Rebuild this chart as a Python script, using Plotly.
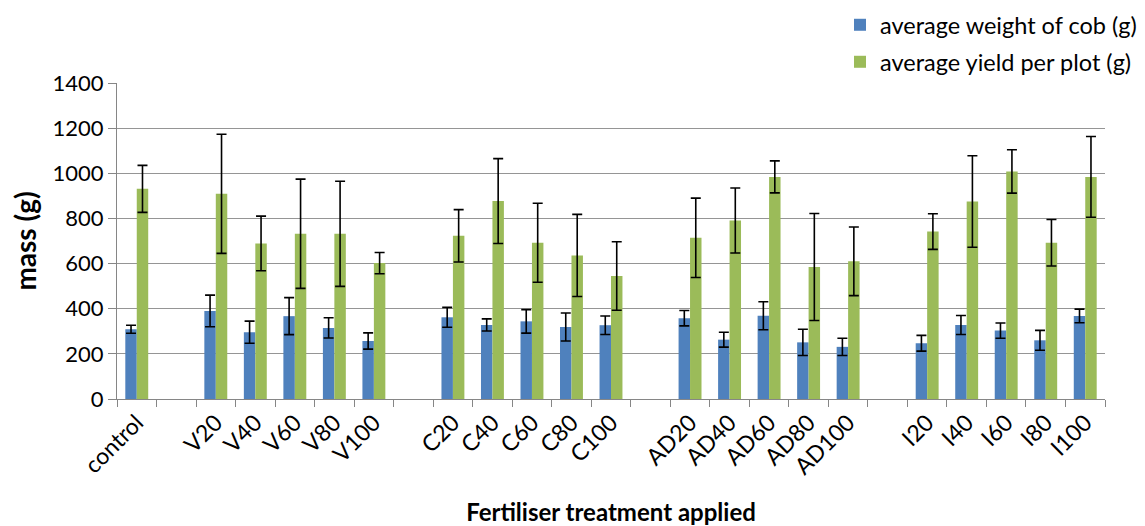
import plotly.graph_objects as go

categories = ["control", " ", "V20", "V40", "V60", "V80", "V100", "  ",
              "C20", "C40", "C60", "C80", "C100", "   ",
              "AD20", "AD40", "AD60", "AD80", "AD100", "    ",
              "I20", "I40", "I60", "I80", "I100"]

cob_weight = [309, None, 390, 296, 367, 315, 257, None,
              362, 328, 344, 319, 327, None,
              358, 263, 369, 251, 231, None,
              247, 328, 303, 260, 368]
cob_err = [18, None, 70, 49, 82, 45, 36, None,
           44, 27, 52, 62, 41, None,
           34, 33, 62, 58, 38, None,
           35, 42, 34, 44, 30]

plot_yield = [931, None, 909, 689, 732, 732, 602, None,
              723, 877, 692, 636, 545, None,
              714, 791, 984, 585, 610, None,
              742, 875, 1008, 692, 984]
yield_err = [104, None, 264, 121, 242, 233, 47, None,
             116, 188, 175, 182, 152, None,
             176, 144, 71, 237, 152, None,
             79, 203, 96, 103, 179]

FONT = "Lato"
W, H = 1137, 518  # page body has an 8px default margin
OFF = 8

fig = go.Figure()
fig.add_trace(go.Bar(
    x=categories, y=cob_weight, name="average weight of cob (g)",
    marker=dict(color="#4F81BD", line=dict(width=0)),
    error_y=dict(type="data", array=cob_err, visible=True, color="black",
                 thickness=1.6, width=5),
    legend="legend", showlegend=True,
))
fig.add_trace(go.Bar(
    x=categories, y=plot_yield, name="average yield per plot (g)",
    marker=dict(color="#9BBB59", line=dict(width=0)),
    error_y=dict(type="data", array=yield_err, visible=True, color="black",
                 thickness=1.6, width=5),
    legend="legend2", showlegend=True,
))

fig.update_layout(
    width=W, height=H, showlegend=True,
    margin=dict(l=117 - OFF, r=40, t=83 - OFF, b=127, autoexpand=False),
    paper_bgcolor="white", plot_bgcolor="white",
    barmode="group", bargap=0.42, bargroupgap=0,
    font=dict(family=FONT, color="black"),
    legend=dict(x=(840 - OFF) / W, y=1 - (25 - OFF) / H, xref="container", yref="container",
                xanchor="left", yanchor="middle", font=dict(size=23.5, family=FONT),
                bgcolor="rgba(0,0,0,0)"),
    legend2=dict(x=(840 - OFF) / W, y=1 - (62 - OFF) / H, xref="container", yref="container",
                 xanchor="left", yanchor="middle", font=dict(size=23.5, family=FONT),
                 bgcolor="rgba(0,0,0,0)"),
    xaxis=dict(
        type="category", categoryorder="array", categoryarray=categories,
        tickson="boundaries", ticks="outside", ticklen=7, tickcolor="#868686",
        tickwidth=1.3,
        showline=True, linecolor="#868686", linewidth=1.3,
        tickangle=-45, tickfont=dict(size=23, family=FONT),
        showgrid=False, automargin=False,
        title=dict(text="<b>Fertiliser treatment applied</b>",
                   font=dict(size=24, family=FONT), standoff=28),
    ),
    yaxis=dict(
        range=[0, 1400], tickvals=[0, 200, 400, 600, 800, 1000, 1200, 1400],
        ticks="outside", ticklen=8, tickcolor="#868686", tickwidth=1.3,
        showline=True, linecolor="#868686", linewidth=1.3,
        showgrid=True, gridcolor="#959595", gridwidth=1.3,
        tickfont=dict(size=22, family=FONT), zeroline=False, automargin=False,
        title=dict(text="<b>mass (g)</b>", font=dict(size=28, family=FONT),
                   standoff=20),
    ),
)

fig.write_html("out.html")
